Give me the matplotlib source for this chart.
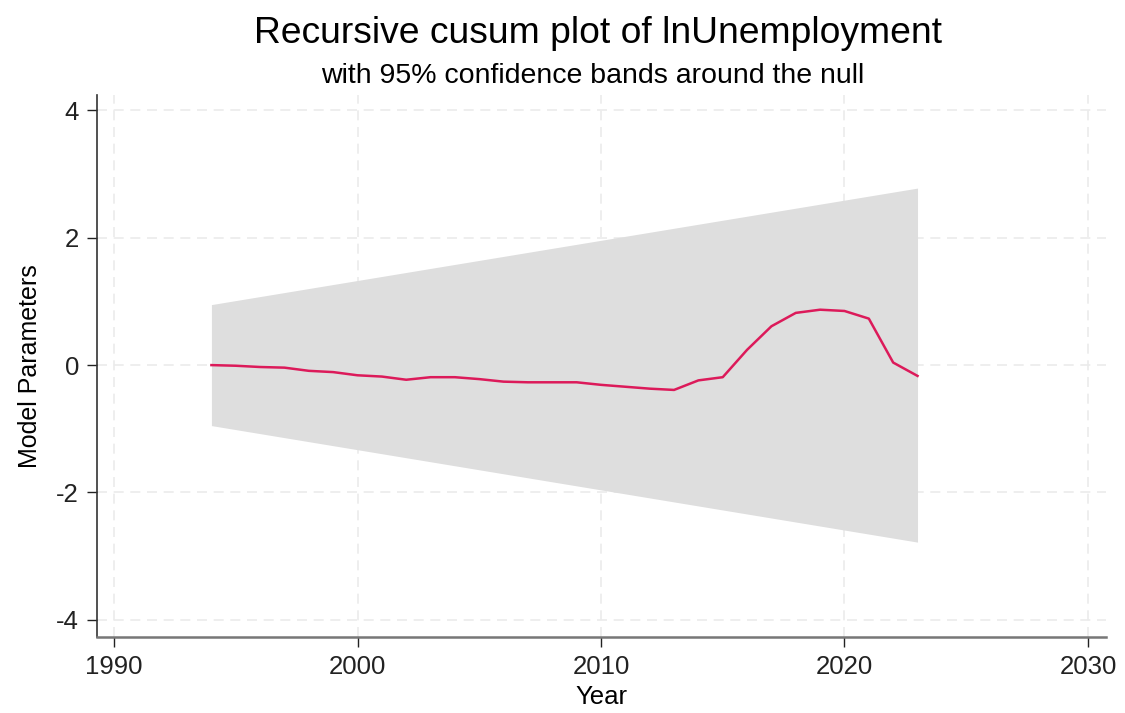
import matplotlib.pyplot as plt
import numpy as np

plt.rcParams['font.family'] = ['Liberation Sans', 'DejaVu Sans']

# Recursive CUSUM of lnUnemployment, 1994-2023
years = np.arange(1994, 2024)
cusum = [0.00, -0.01, -0.03, -0.04, -0.09, -0.11, -0.16, -0.18, -0.23, -0.19,
         -0.19, -0.22, -0.26, -0.27, -0.27, -0.27, -0.31, -0.34, -0.37, -0.39,
         -0.24, -0.19, 0.24, 0.61, 0.82, 0.87, 0.85, 0.73, 0.04, -0.17]

# 95% band half-widths at the first and last recursive residual
band_years = [1994, 2023]
band_half = [0.95, 2.78]

fig = plt.figure(figsize=(11.25, 7.13), dpi=100)
ax = fig.add_axes([0.0862, 0.1066, 0.8969, 0.760])

ax.fill_between(band_years, [-b for b in band_half], band_half,
                color='#dedede', linewidth=0, zorder=2)
ax.plot(years, cusum, color='#dc1a5a', linewidth=1.8, zorder=3)

ax.set_xlim(1989.3, 2030.74)
ax.set_ylim(-4.27, 4.24)
ax.set_xticks([1990, 2000, 2010, 2020, 2030])
ax.set_yticks([-4, -2, 0, 2, 4])
ax.set_yticklabels(['-4', '-2', '0', '2', '4'])
ax.grid(True, linestyle=(0, (6, 4)), color='#ebebeb', linewidth=1.2, zorder=1)
ax.set_axisbelow(True)

for side in ['top', 'right']:
    ax.spines[side].set_visible(False)
for side in ['left', 'bottom']:
    ax.spines[side].set_color('#333333')
    ax.spines[side].set_linewidth(1.2)
ax.spines['bottom'].set_color('#777777')
ax.spines['bottom'].set_linewidth(1.8)
ax.tick_params(direction='out', length=7, width=1.0, colors='#222222',
               labelsize=18.5, pad=6)

ax.set_xlabel('Year', fontsize=18.5, labelpad=4)
ax.set_ylabel('Model Parameters', fontsize=18, labelpad=10)

fig.text(0.532, 0.953, 'Recursive cusum plot of lnUnemployment',
         ha='center', va='center', fontsize=26.8)
fig.text(0.527, 0.893, 'with 95% confidence bands around the null',
         ha='center', va='center', fontsize=20.5)

fig.savefig('out.png', dpi=100)
